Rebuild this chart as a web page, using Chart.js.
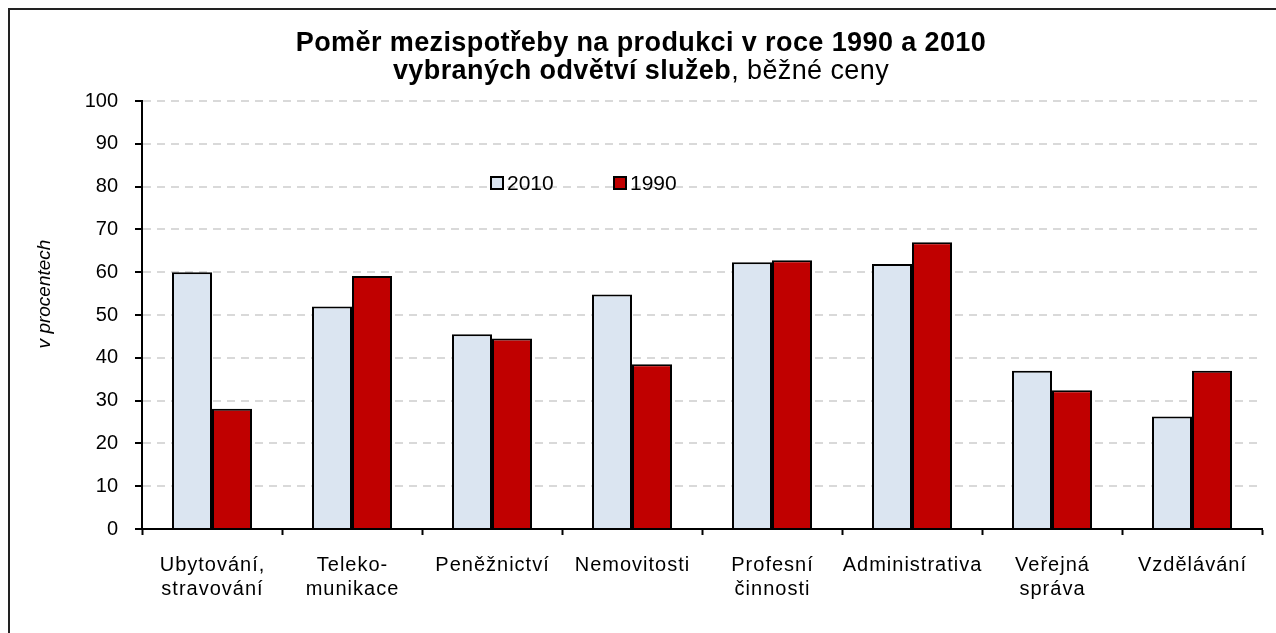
<!DOCTYPE html>
<html>
<head>
<meta charset="utf-8">
<script src="https://cdn.jsdelivr.net/npm/chart.js@4.4.1/dist/chart.umd.min.js"></script>
<style>
  html, body { margin: 0; padding: 0; background: #fff; }
  canvas { display: block; }
</style>
</head>
<body>
<canvas id="c" width="1276" height="633"></canvas>
<script>
const categories = [
  ['Ubytování,', 'stravování'],
  ['Teleko-', 'munikace'],
  'Peněžnictví',
  'Nemovitosti',
  ['Profesní', 'činnosti'],
  'Administrativa',
  ['Veřejná', 'správa'],
  'Vzdělávání'
];
const seriesLabels = ['2010', '1990'];
const values2010 = [60.0, 52.0, 45.5, 54.8, 62.3, 61.9, 37.0, 26.3];
const values1990 = [28.1, 59.1, 44.5, 38.5, 62.8, 67.0, 32.4, 37.0];
const yMin = 0, yMax = 100, yStep = 10;
const titleBold1 = 'Poměr mezispotřeby na produkci v roce 1990 a 2010';
const titleBold2 = 'vybraných odvětví služeb';
const titleNormal2 = ', běžné ceny';
const yAxisTitle = 'v procentech';

const FONT = '"Liberation Sans", Arial, Helvetica, sans-serif';

const framePlugin = {
  id: 'frame',
  afterDraw(chart) {
    const ctx = chart.ctx;
    ctx.save();
    ctx.strokeStyle = '#222';
    ctx.lineWidth = 2;
    ctx.beginPath();
    ctx.moveTo(9, 640);
    ctx.lineTo(9, 9);
    ctx.lineTo(1280, 9);
    ctx.stroke();
    ctx.restore();
  }
};

const titlePlugin = {
  id: 'mixedTitle',
  afterDraw(chart) {
    const ctx = chart.ctx;
    const cx = 641;
    ctx.save();
    ctx.fillStyle = '#000';
    ctx.letterSpacing = '0.4px';
    ctx.textBaseline = 'alphabetic';
    ctx.font = 'bold 27px ' + FONT;
    const w1 = ctx.measureText(titleBold1).width;
    ctx.textAlign = 'left';
    ctx.fillText(titleBold1, cx - w1 / 2, 51);
    const wb = ctx.measureText(titleBold2).width;
    ctx.font = '27px ' + FONT;
    const wn = ctx.measureText(titleNormal2).width;
    const start = cx - (wb + wn) / 2;
    ctx.font = 'bold 27px ' + FONT;
    ctx.fillText(titleBold2, start, 79);
    ctx.font = '27px ' + FONT;
    ctx.fillText(titleNormal2, start + wb, 79);
    ctx.letterSpacing = '0px';

    // y axis title
    ctx.translate(45, 294);
    ctx.rotate(-Math.PI / 2);
    ctx.textAlign = 'center';
    ctx.textBaseline = 'middle';
    ctx.font = 'italic 19px ' + FONT;
    ctx.fillText(yAxisTitle, 0, 0);
    ctx.restore();
  }
};

const legendPlugin = {
  id: 'insideLegend',
  afterDraw(chart) {
    const ctx = chart.ctx;
    const positions = [491, 614];
    ctx.save();
    ctx.font = '21px ' + FONT;
    ctx.textBaseline = 'middle';
    ctx.textAlign = 'left';
    chart.data.datasets.forEach((ds, i) => {
      const x = positions[i];
      const y = 183;
      ctx.fillStyle = ds.backgroundColor;
      ctx.fillRect(x, y - 6, 12, 12);
      ctx.strokeStyle = '#000';
      ctx.lineWidth = 2;
      ctx.strokeRect(x, y - 6, 12, 12);
      ctx.fillStyle = '#000';
      ctx.fillText(ds.label, x + 16, y + 1);
    });
    ctx.restore();
  }
};

const spacedXLabels = {
  id: 'spacedXLabels',
  afterLayout(chart) {
    const sc = chart.scales.x;
    if (sc.__patched) return;
    const orig = Object.getPrototypeOf(sc).drawLabels;
    sc.drawLabels = function (area) {
      const ctx = this.ctx;
      ctx.save();
      ctx.letterSpacing = '1px';
      ctx.translate(0.5, 0);
      orig.call(this, area);
      ctx.restore();
    };
    sc.__patched = true;
  }
};

new Chart(document.getElementById('c'), {
  type: 'bar',
  data: {
    labels: categories,
    datasets: [
      {
        label: seriesLabels[0],
        data: values2010,
        backgroundColor: '#dbe5f1',
        borderColor: '#000',
        borderWidth: 2,
        barPercentage: 1,
        categoryPercentage: 80 / 140
      },
      {
        label: seriesLabels[1],
        data: values1990,
        backgroundColor: '#c00000',
        borderColor: '#000',
        borderWidth: 2,
        barPercentage: 1,
        categoryPercentage: 80 / 140
      }
    ]
  },
  options: {
    responsive: false,
    animation: false,
    layout: { padding: { top: 101, right: 14, bottom: 0, left: 0 } },
    plugins: {
      legend: { display: false },
      title: { display: false },
      tooltip: { enabled: false }
    },
    scales: {
      x: {
        offset: true,
        grid: {
          display: true,
          drawOnChartArea: false,
          drawTicks: true,
          tickLength: 6,
          tickColor: '#000',
          tickWidth: 2,
          offset: true
        },
        border: { display: true, color: '#000', width: 2 },
        ticks: {
          color: '#000',
          font: { family: FONT, size: 20 },
          padding: 18,
          maxRotation: 0,
          autoSkip: false
        },
        afterFit(scale) { scale.height = 104; }
      },
      y: {
        min: yMin,
        max: yMax,
        ticks: {
          stepSize: yStep,
          color: '#000',
          font: { family: FONT, size: 20 },
          padding: 17
        },
        grid: {
          color: '#d9d9d9',
          lineWidth: 2,
          tickLength: 7,
          tickColor: '#000',
          tickWidth: 2,
          tickBorderDash: []
        },
        border: { display: true, color: '#000', width: 2, dash: [8, 6] },
        afterFit(scale) { scale.width = 142; }
      }
    }
  },
  plugins: [framePlugin, titlePlugin, legendPlugin, spacedXLabels]
});
</script>
</body>
</html>
